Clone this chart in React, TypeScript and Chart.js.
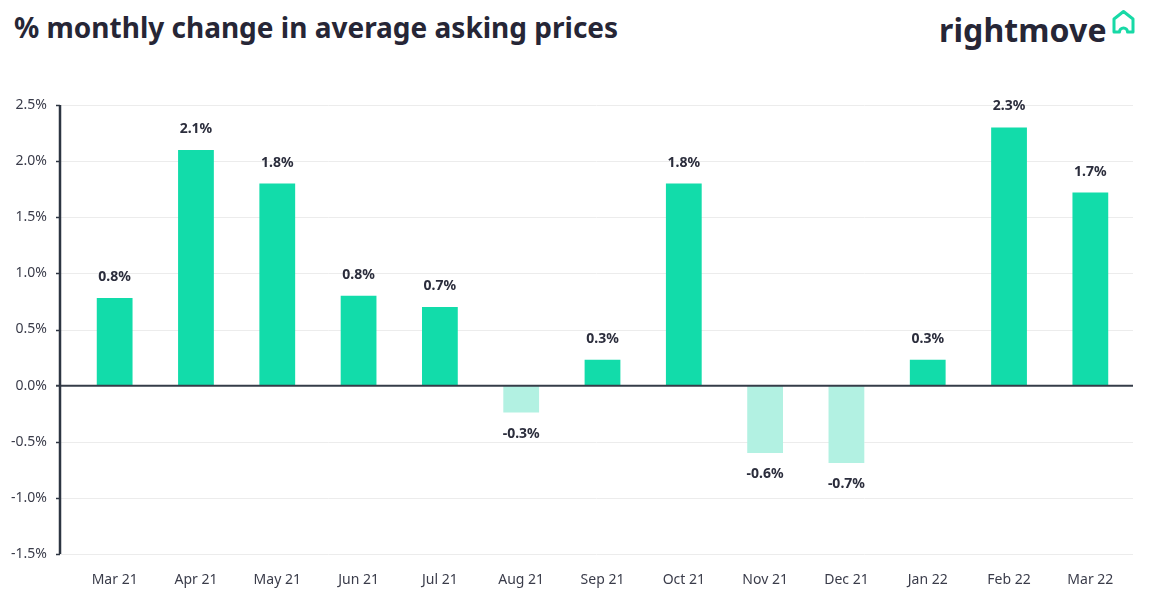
import React, { useEffect, useRef } from "react";
import { Chart, registerables } from "chart.js";

Chart.register(...registerables);

const categories = ["Mar 21", "Apr 21", "May 21", "Jun 21", "Jul 21", "Aug 21", "Sep 21", "Oct 21", "Nov 21", "Dec 21", "Jan 22", "Feb 22", "Mar 22"];
const changeValues = [0.78, 2.1, 1.8, 0.8, 0.7, -0.24, 0.23, 1.8, -0.6, -0.69, 0.23, 2.3, 1.72];
const valueLabels = ["0.8%", "2.1%", "1.8%", "0.8%", "0.7%", "-0.3%", "0.3%", "1.8%", "-0.6%", "-0.7%", "0.3%", "2.3%", "1.7%"];
const yMin = -1.5;
const yMax = 2.5;
const yStep = 0.5;

const POS = "#12dcaa";
const NEG = "#b2f1e2";
const TEXT = "#2b2d3c";
const FONT = "'Noto Sans', 'Open Sans', sans-serif";

const axisPlugin = {
  id: "customAxis",
  beforeDatasetsDraw(chart: any) {
    const { ctx, chartArea, scales } = chart;
    const y = scales.y;
    const axisX = chartArea.left - 14;
    const right = chartArea.right + 2;
    ctx.save();
    y.ticks.forEach((t: any) => {
      const py = Math.round(y.getPixelForValue(t.value)) + 0.5;
      if (t.value === 0) return;
      ctx.strokeStyle = "#ececec";
      ctx.lineWidth = 1;
      ctx.beginPath();
      ctx.moveTo(axisX, py);
      ctx.lineTo(right, py);
      ctx.stroke();
      ctx.strokeStyle = "#2d3542";
      ctx.lineWidth = 1.5;
      ctx.beginPath();
      ctx.moveTo(axisX - 4, py);
      ctx.lineTo(axisX, py);
      ctx.stroke();
    });
    ctx.restore();
  },
  afterDatasetsDraw(chart: any) {
    const { ctx, chartArea, scales } = chart;
    const y = scales.y;
    const axisX = chartArea.left - 14;
    const right = chartArea.right + 2;
    ctx.save();
    const zy = y.getPixelForValue(0);
    ctx.strokeStyle = "#353c48";
    ctx.lineWidth = 2;
    ctx.beginPath();
    ctx.moveTo(axisX - 4, zy);
    ctx.lineTo(right, zy);
    ctx.stroke();
    ctx.lineWidth = 2.5;
    ctx.strokeStyle = "#2d3542";
    ctx.beginPath();
    ctx.moveTo(axisX, y.getPixelForValue(yMax));
    ctx.lineTo(axisX, y.getPixelForValue(yMin));
    ctx.stroke();

    const meta = chart.getDatasetMeta(0);
    ctx.fillStyle = TEXT;
    ctx.font = `bold 14px ${FONT}`;
    ctx.textAlign = "center";
    ctx.textBaseline = "alphabetic";
    meta.data.forEach((bar: any, i: number) => {
      const v = changeValues[i];
      const ty = v >= 0 ? bar.y - 17 : bar.y + 25;
      ctx.fillText(valueLabels[i], bar.x, ty);
    });
    ctx.restore();
  },
};

export default function App() {
  const ref = useRef<HTMLCanvasElement | null>(null);
  useEffect(() => {
    if (!ref.current) return;
    const chart = new Chart(ref.current, {
      type: "bar",
      data: {
        labels: categories,
        datasets: [
          {
            data: changeValues,
            backgroundColor: changeValues.map((v) => (v >= 0 ? POS : NEG)),
            borderWidth: 0,
            categoryPercentage: 1,
            barPercentage: 0.44,
          },
        ],
      },
      options: {
        animation: false,
        responsive: false,
        devicePixelRatio: 1,
        layout: { padding: { left: 0, right: 36, top: 105, bottom: 0 } },
        plugins: { legend: { display: false }, tooltip: { enabled: false }, title: { display: false } },
        scales: {
          x: {
            grid: { display: false, drawTicks: false },
            border: { display: false },
            ticks: { color: "#3a3c4a", font: { family: FONT, size: 14 }, padding: 18, maxRotation: 0 },
            afterFit: (s: any) => {
              s.height = 51;
            },
          },
          y: {
            min: yMin,
            max: yMax,
            grid: { display: false, drawTicks: false },
            border: { display: false },
            ticks: {
              stepSize: yStep,
              padding: 27,
              color: "#3a3c4a",
              font: { family: FONT, size: 14 },
              callback: (v: any) => Number(v).toFixed(1) + "%",
            },
            afterFit: (s: any) => {
              s.width = 74;
            },
          },
        },
      },
      plugins: [axisPlugin],
    });
    return () => chart.destroy();
  }, []);

  return (
    <div style={{ position: "fixed", left: 0, top: 0, width: 1167, height: 605, background: "#fff", overflow: "hidden" }}>
      <div
        style={{
          position: "absolute",
          left: 14,
          top: 8,
          fontFamily: FONT,
          fontWeight: 700,
          fontSize: 28,
          color: "#262636",
          whiteSpace: "nowrap",
        }}
      >
        % monthly change in average asking prices
      </div>
      <svg width="1167" height="60" style={{ position: "absolute", left: 0, top: 0 }}>
        <text x="939" y="42" fontFamily="Noto Sans, Open Sans, sans-serif" fontWeight="700" fontSize="32" fill="#262636" letterSpacing="0.1">
          rightmove
        </text>
        <path
          d="M1114 32 V19 L1123.5 11.5 L1133 19 V32 H1127.5 A4 4 0 0 0 1119.5 32 Z"
          fill="none"
          stroke="#17d9a6"
          strokeWidth="3"
          strokeLinejoin="round"
        />
      </svg>
      <canvas ref={ref} width={1167} height={605} style={{ position: "absolute", left: 0, top: 0, width: 1167, height: 605 }} />
    </div>
  );
}
